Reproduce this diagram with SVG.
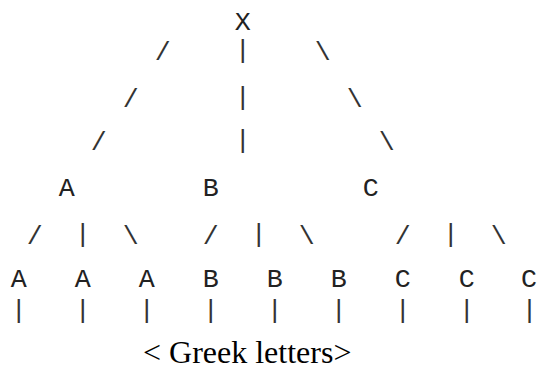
<svg xmlns="http://www.w3.org/2000/svg" width="537" height="368" viewBox="0 0 537 368">
<style>
.m{font-family:"Liberation Mono","Courier New",monospace;font-size:26.67px;fill:#222;text-anchor:middle}
.c{font-family:"Liberation Mono","Courier New",monospace;font-size:26.67px;fill:#333;text-anchor:middle}
.cap{font-family:"Liberation Serif","Times New Roman",serif;font-size:32px;fill:#000}
</style>
<rect width="537" height="368" fill="#fff"/>
<g id="nodes">
<g id="root"><text class="m" x="242.8" y="30">X</text></g>
<g id="A"><text class="m" x="66.8" y="196">A</text></g>
<g id="B"><text class="m" x="210.8" y="196">B</text></g>
<g id="C"><text class="m" x="370.8" y="196">C</text></g>
<g id="A1"><text class="m" x="18.8" y="286.5">A</text></g>
<g id="A2"><text class="m" x="82.8" y="286.5">A</text></g>
<g id="A3"><text class="m" x="146.8" y="286.5">A</text></g>
<g id="B1"><text class="m" x="210.8" y="286.5">B</text></g>
<g id="B2"><text class="m" x="274.8" y="286.5">B</text></g>
<g id="B3"><text class="m" x="338.8" y="286.5">B</text></g>
<g id="C1"><text class="m" x="402.8" y="286.5">C</text></g>
<g id="C2"><text class="m" x="466.8" y="286.5">C</text></g>
<g id="C3"><text class="m" x="529" y="286.5">C</text></g>
</g>
<g id="connectors">
<text class="c" x="162.8" y="59.8">/</text>
<text class="c" x="242.8" y="58">|</text>
<text class="c" x="322.8" y="59.8">\</text>
<text class="c" x="130.8" y="106.9">/</text>
<text class="c" x="242.8" y="105">|</text>
<text class="c" x="354.8" y="106.9">\</text>
<text class="c" x="98.8" y="149.8">/</text>
<text class="c" x="242.8" y="148">|</text>
<text class="c" x="386.8" y="149.8">\</text>
<text class="c" x="34.8" y="243.6">/</text>
<text class="c" x="82.8" y="242">|</text>
<text class="c" x="130.8" y="243.6">\</text>
<text class="c" x="210.8" y="243.6">/</text>
<text class="c" x="258.8" y="242">|</text>
<text class="c" x="306.8" y="243.6">\</text>
<text class="c" x="402.8" y="243.6">/</text>
<text class="c" x="450.8" y="242">|</text>
<text class="c" x="498.8" y="243.6">\</text>
<text class="c" x="18.8" y="317.7">|</text>
<text class="c" x="82.8" y="317.7">|</text>
<text class="c" x="146.8" y="317.7">|</text>
<text class="c" x="210.8" y="317.7">|</text>
<text class="c" x="274.8" y="317.7">|</text>
<text class="c" x="338.8" y="317.7">|</text>
<text class="c" x="402.8" y="317.7">|</text>
<text class="c" x="466.8" y="317.7">|</text>
<text class="c" x="529.5" y="317.7">|</text>
</g>
<text class="cap" x="143" y="362.5">&lt; Greek letters&gt;</text>
</svg>
